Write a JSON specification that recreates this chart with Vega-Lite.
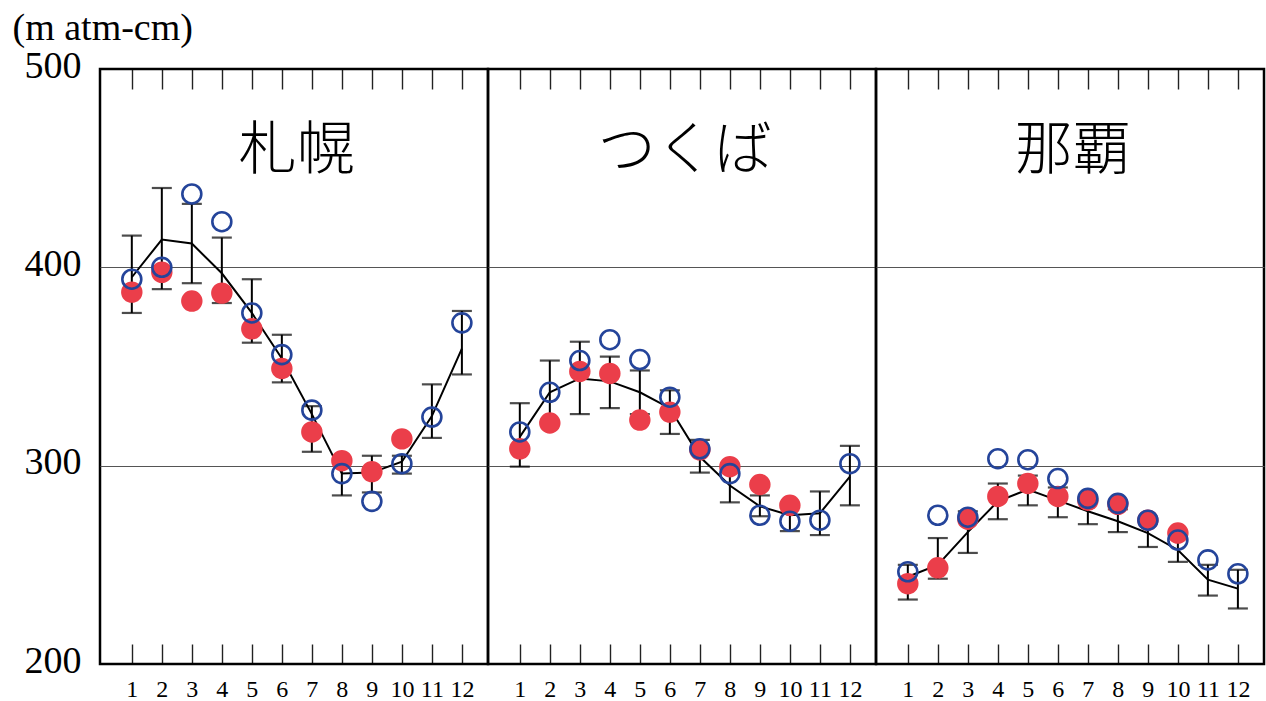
{
  "$schema": "https://vega.github.io/schema/vega-lite/v6.json",
  "autosize": {"type": "pad"},
  "padding": {"left": 12, "top": 9, "right": 0, "bottom": 0},
  "background": "white",
  "bounds": "flush",
  "data": {
    "values": [
      {"station": "札幌", "month": 1, "mean": 395, "low": 377, "high": 416, "obsA": 387.5, "obsB": 394},
      {"station": "札幌", "month": 2, "mean": 414, "low": 389, "high": 440, "obsA": 397.5, "obsB": 400},
      {"station": "札幌", "month": 3, "mean": 412, "low": 392, "high": 432, "obsA": 383, "obsB": 437},
      {"station": "札幌", "month": 4, "mean": 397, "low": 382, "high": 415, "obsA": 387, "obsB": 423},
      {"station": "札幌", "month": 5, "mean": 377, "low": 362, "high": 394, "obsA": 369, "obsB": 377},
      {"station": "札幌", "month": 6, "mean": 354, "low": 342, "high": 366, "obsA": 349, "obsB": 356},
      {"station": "札幌", "month": 7, "mean": 326, "low": 307, "high": 330, "obsA": 317, "obsB": 328},
      {"station": "札幌", "month": 8, "mean": 296, "low": 285, "high": 303, "obsA": 302.5, "obsB": 296},
      {"station": "札幌", "month": 9, "mean": 296.5, "low": 286.5, "high": 305, "obsA": 297, "obsB": 282},
      {"station": "札幌", "month": 10, "mean": 302, "low": 296, "high": 305, "obsA": 313.5, "obsB": 301},
      {"station": "札幌", "month": 11, "mean": 325, "low": 314, "high": 341, "obsA": null, "obsB": 324.5},
      {"station": "札幌", "month": 12, "mean": 359, "low": 346, "high": 378, "obsA": null, "obsB": 372},
      {"station": "つくば", "month": 1, "mean": 314.5, "low": 299.5, "high": 331.5, "obsA": 308.5, "obsB": 317},
      {"station": "つくば", "month": 2, "mean": 337, "low": 322, "high": 353, "obsA": 321.5, "obsB": 337},
      {"station": "つくば", "month": 3, "mean": 344, "low": 326, "high": 362.5, "obsA": 347.5, "obsB": 353},
      {"station": "つくば", "month": 4, "mean": 342.5, "low": 329, "high": 355, "obsA": 346.5, "obsB": 363.5},
      {"station": "つくば", "month": 5, "mean": 337, "low": 326, "high": 348, "obsA": 323, "obsB": 353.5},
      {"station": "つくば", "month": 6, "mean": 329, "low": 316, "high": 338, "obsA": 327, "obsB": 334.5},
      {"station": "つくば", "month": 7, "mean": 304.5, "low": 296.5, "high": 313, "obsA": 308, "obsB": 308.5},
      {"station": "つくば", "month": 8, "mean": 290, "low": 281.5, "high": 298.5, "obsA": 299.5, "obsB": 296},
      {"station": "つくば", "month": 9, "mean": 279.5, "low": 274.5, "high": 285, "obsA": 290.5, "obsB": 275},
      {"station": "つくば", "month": 10, "mean": 275, "low": 267, "high": 281, "obsA": 280, "obsB": 272},
      {"station": "つくば", "month": 11, "mean": 276, "low": 265, "high": 287, "obsA": null, "obsB": 272.5},
      {"station": "つくば", "month": 12, "mean": 294.5, "low": 280, "high": 310, "obsA": null, "obsB": 301},
      {"station": "那覇", "month": 1, "mean": 244, "low": 232.5, "high": 250, "obsA": 240.5, "obsB": 246.5},
      {"station": "那覇", "month": 2, "mean": 250, "low": 243, "high": 263.5, "obsA": 248.5, "obsB": 275},
      {"station": "那覇", "month": 3, "mean": 266.5, "low": 256, "high": 277, "obsA": 273, "obsB": 274},
      {"station": "那覇", "month": 4, "mean": 282, "low": 273, "high": 291, "obsA": 284.5, "obsB": 303.5},
      {"station": "那覇", "month": 5, "mean": 288, "low": 280, "high": 295, "obsA": 291, "obsB": 303},
      {"station": "那覇", "month": 6, "mean": 282.5, "low": 274, "high": 289, "obsA": 284.5, "obsB": 293.5},
      {"station": "那覇", "month": 7, "mean": 277, "low": 270.5, "high": 283, "obsA": 282.5, "obsB": 283.5},
      {"station": "那覇", "month": 8, "mean": 272, "low": 266.5, "high": 278, "obsA": 280.5, "obsB": 281},
      {"station": "那覇", "month": 9, "mean": 266, "low": 259, "high": 273, "obsA": 272.5, "obsB": 272.5},
      {"station": "那覇", "month": 10, "mean": 257.5, "low": 251.5, "high": 263.5, "obsA": 266, "obsB": 262.5},
      {"station": "那覇", "month": 11, "mean": 242.5, "low": 234.5, "high": 250, "obsA": null, "obsB": 252.5},
      {"station": "那覇", "month": 12, "mean": 238, "low": 228, "high": 247.5, "obsA": null, "obsB": 245.5}
    ]
  },
  "facet": {
    "column": {
      "field": "station",
      "type": "nominal",
      "sort": ["札幌", "つくば", "那覇"],
      "header": {"title": null, "labels": false}
    }
  },
  "spacing": 0,
  "spec": {
    "width": 388,
    "height": 595,
    "layer": [
      {
        "mark": {"type": "line", "color": "black", "strokeWidth": 2},
        "encoding": {
          "x": {
            "field": "month",
            "type": "quantitative",
            "scale": {"domain": [-0.06, 12.87], "nice": false, "zero": false},
            "axis": {
              "orient": "bottom",
              "values": [1, 2, 3, 4, 5, 6, 7, 8, 9, 10, 11, 12],
              "title": null,
              "domain": false,
              "grid": false,
              "tickSize": -20,
              "tickColor": "#222222",
              "tickWidth": 1.4,
              "labelFont": "Liberation Serif",
              "labelFontSize": 24,
              "labelColor": "black",
              "labelPadding": 33,
              "labelFlush": false,
              "labelOverlap": false
            }
          },
          "y": {
            "field": "mean",
            "type": "quantitative",
            "scale": {"domain": [200, 500], "nice": false, "zero": false},
            "axis": {
              "values": [200, 300, 400, 500],
              "title": "(m atm-cm)",
              "titleAngle": 0,
              "titleAlign": "left",
              "titleBaseline": "alphabetic",
              "titleX": -88,
              "titleY": -30,
              "titleFont": "Liberation Serif",
              "titleFontSize": 38,
              "titleFontWeight": "normal",
              "titleColor": "black",
              "domain": false,
              "ticks": false,
              "labelFont": "Liberation Serif",
              "labelFontSize": 38,
              "labelColor": "black",
              "labelPadding": 19,
              "labelOffset": -3,
              "grid": true,
              "gridWidth": 1.2,
              "gridColor": {
                "condition": {"test": "datum.value === 300 || datum.value === 400", "value": "#555555"},
                "value": "rgba(0,0,0,0)"
              }
            }
          }
        }
      },
      {
        "mark": {"type": "rule", "color": "black", "strokeWidth": 2},
        "encoding": {
          "x": {
            "field": "month",
            "type": "quantitative",
            "axis": {
              "orient": "top",
              "values": [1, 2, 3, 4, 5, 6, 7, 8, 9, 10, 11, 12],
              "title": null,
              "labels": false,
              "domain": false,
              "grid": false,
              "tickSize": -20,
              "tickColor": "#222222",
              "tickWidth": 1.4
            }
          },
          "y": {"field": "low", "type": "quantitative"},
          "y2": {"field": "high"}
        }
      },
      {
        "mark": {"type": "tick", "orient": "horizontal", "color": "black", "thickness": 2.2, "size": 20},
        "encoding": {
          "x": {"field": "month", "type": "quantitative", "axis": null},
          "y": {"field": "low", "type": "quantitative"}
        }
      },
      {
        "mark": {"type": "tick", "orient": "horizontal", "color": "black", "thickness": 2.2, "size": 20},
        "encoding": {
          "x": {"field": "month", "type": "quantitative", "axis": null},
          "y": {"field": "high", "type": "quantitative"}
        }
      },
      {
        "mark": {"type": "circle", "color": "#eb3e4a", "opacity": 1, "size": 460},
        "encoding": {
          "x": {"field": "month", "type": "quantitative", "axis": null},
          "y": {"field": "obsA", "type": "quantitative"}
        }
      },
      {
        "mark": {"type": "point", "shape": "circle", "filled": false, "color": "#24449a", "strokeWidth": 2.6, "size": 360, "opacity": 1},
        "encoding": {
          "x": {"field": "month", "type": "quantitative", "axis": null},
          "y": {"field": "obsB", "type": "quantitative"}
        }
      },
      {
        "transform": [{"filter": "datum.month === 1"}],
        "mark": {"type": "text", "font": "Noto Sans CJK JP", "fontSize": 58, "fontWeight": 300, "color": "black", "align": "center", "baseline": "middle"},
        "encoding": {
          "x": {"datum": 6.5, "type": "quantitative", "axis": null},
          "y": {"datum": 458, "type": "quantitative"},
          "text": {"field": "station", "type": "nominal"}
        }
      }
    ],
    "resolve": {"axis": {"x": "independent"}}
  },
  "config": {
    "view": {"stroke": "black", "strokeWidth": 2.5}
  }
}
